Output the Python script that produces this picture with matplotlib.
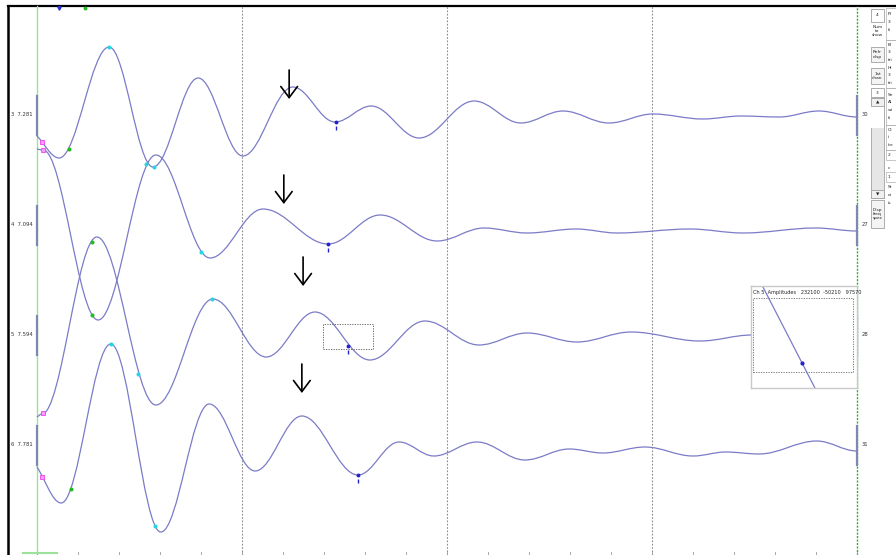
import matplotlib
matplotlib.use('Agg')
import matplotlib.pyplot as plt
from matplotlib.path import Path
from matplotlib.patches import PathPatch, Rectangle

# channel labels / offsets
chan_left = ['3  7.281', '4  7.094', '5  7.594', '6  7.781']
chan_right = ['30', '27', '28', '31']
offsets = [44.0, 33.0, 22.0, 11.0]

# extrema of each trace (time, amplitude)
t1 = [0, 0.54, 1.76, 2.83, 3.93, 5.02, 6.24, 7.27, 8.15, 9.32, 10.66, 11.80,
      12.83, 13.95, 15.02, 16.24, 17.17, 18.10, 19.07, 20.0]
a1 = [-2.1, -4.3, 6.8, -5.2, 3.7, -4.1, 2.8, -0.7, 0.9, -2.3, 1.4, -0.8,
      0.4, -0.8, 0.1, -0.4, -0.1, -0.2, 0.4, -0.2]
t2 = [0, 0.15, 1.49, 2.90, 4.22, 5.51, 7.10, 8.37, 9.76, 10.90, 11.95, 13.15,
      14.15, 15.93, 17.22, 19.0, 20.0]
a2 = [7.6, 7.5, -9.5, 7.0, -3.3, 1.6, -1.9, 1.0, -1.6, -0.3, -0.8, -0.4,
      -0.8, -0.4, -0.8, -0.3, -0.6]
t3 = [0, 0.12, 1.46, 2.90, 4.29, 5.59, 6.78, 8.12, 9.46, 10.78, 11.95, 13.17,
      14.49, 16.17, 17.44, 20.0]
a3 = [-8.2, -7.9, 9.8, -7.0, 3.6, -2.2, 2.3, -2.5, 1.4, -1.0, 0.2, -0.7,
      0.3, -0.6, 0.0, -0.1]
t4 = [0, 0.59, 1.80, 3.02, 4.20, 5.32, 6.46, 7.83, 8.83, 9.68, 10.73, 11.90,
      12.98, 13.80, 14.83, 16.0, 16.80, 17.61, 19.02, 20.0]
a4 = [-2.2, -5.8, 10.1, -8.7, 4.1, -2.6, 2.9, -3.0, 0.3, -1.1, 0.3, -1.5,
      -0.4, -0.8, -0.2, -1.1, -0.7, -0.9, 0.4, -0.6]
traces = [(t1, a1), (t2, a2), (t3, a3), (t4, a4)]

# picks (black arrows): time and amplitude of arrow tip
arrow_t = [6.15, 6.02, 6.49, 6.46]
arrow_tip = [1.6, 2.1, 4.9, 5.2]

# markers: (channel, time, amplitude)
magenta_pts = [(0, 0.12, -2.7), (1, 0.15, 7.5), (2, 0.15, -7.8), (3, 0.12, -3.2)]
green_pts = [(0, 0.78, -3.4), (1, 1.34, -9.0), (2, 1.34, 9.3), (3, 0.83, -4.4)]
cyan_pts = [(0, 1.76, 6.8), (0, 2.85, -5.2), (1, 2.66, 6.1), (1, 4.0, -2.7),
            (2, 4.27, 3.6), (2, 2.46, -3.9), (3, 1.8, 10.1), (3, 2.88, -8.1)]
blue_pts = [(0, 7.29, -0.7), (1, 7.1, -1.9), (2, 7.59, -1.1), (3, 7.83, -3.0)]

inset_title = 'Ch 5  Amplitudes   232100  -50210   97570'

wave_col = '#7b7bc8'


def wave_path(t, a, off, k=0.364):
    verts = [(t[0], off + a[0])]
    codes = [Path.MOVETO]
    for i in range(1, len(t)):
        x0, y0 = t[i - 1], off + a[i - 1]
        x1, y1 = t[i], off + a[i]
        dx = x1 - x0
        if i == 1:
            c1 = (x0 + dx / 3, y0 + (y1 - y0) / 3)
        else:
            c1 = (x0 + k * dx, y0)
        c2 = (x1 - k * dx, y1)
        verts += [c1, c2, (x1, y1)]
        codes += [Path.CURVE4] * 3
    return Path(verts, codes)


fig = plt.figure(figsize=(8.96, 5.55), dpi=100)
fig.patch.set_facecolor('white')

# overlay in pixel coordinates for screen chrome
ui = fig.add_axes([0, 0, 1, 1])
ui.set_xlim(0, 896)
ui.set_ylim(555, 0)
ui.axis('off')

ax = fig.add_axes([0, 0, 1, 1])
ax.set_xlim(-37 / 41, 859 / 41)
ax.set_ylim(0, 55.5)
ax.axis('off')
ax.patch.set_alpha(0)

# grid lines
for g in [5, 10, 15]:
    ax.axvline(g, ymin=0, ymax=549 / 555, color='#8a8a8a', lw=0.8, ls=(0, (1.5, 1.5)))
ax.axvline(0, ymin=0, ymax=549 / 555, color='#9be39b', lw=1.0)
ax.axvline(20, ymin=0, ymax=549 / 555, color='#33aa33', lw=1.0, ls=(0, (1.5, 1.0)))

# bottom ticks
for i in range(21):
    ax.plot([i, i], [0.05, 0.3], color='#999999', lw=0.6)
ax.plot([-0.34, 0.49], [0.2, 0.2], color='#9be39b', lw=1.5)

# traces
for (t, a), off in zip(traces, offsets):
    ax.add_patch(PathPatch(wave_path(t, a, off), fill=False, ec=wave_col, lw=0.9, zorder=3))

# scale bars and labels
for i, off in enumerate(offsets):
    ax.plot([0, 0], [off - 1.95, off + 1.9], color='#8585b5', lw=1.6, zorder=4)
    ax.plot([20, 20], [off - 1.95, off + 1.9], color='#8585b5', lw=1.6, zorder=4)
    ax.text(-0.63, off, chan_left[i], fontsize=3.8, color='#333333', va='center', ha='left')
    ax.text(20.12, off, chan_right[i], fontsize=3.8, color='#333333', va='center', ha='left')

# markers
for ch, t, a in magenta_pts:
    ax.plot(t, offsets[ch] + a, marker='s', ms=3.0, mfc='#ff99ff', mec='#ee44ee', mew=0.6, zorder=5)
for ch, t, a in green_pts:
    ax.plot(t, offsets[ch] + a, marker='o', ms=1.9, color='#22bb22', zorder=5)
for ch, t, a in cyan_pts:
    ax.plot(t, offsets[ch] + a, marker='o', ms=1.9, color='#22d8e0', zorder=5)
for ch, t, a in blue_pts:
    ax.plot(t, offsets[ch] + a, marker='o', ms=1.8, color='#2222cc', zorder=5)
    ax.plot(t, offsets[ch] + a - 0.55, marker='|', ms=3.5, mew=1.0, color='#2222cc', zorder=5)

# pick arrows
for t, tip, off in zip(arrow_t, arrow_tip, offsets):
    ax.annotate('', xy=(t, off + tip), xytext=(t, off + tip + 2.9),
                arrowprops=dict(arrowstyle='->,head_length=0.8,head_width=0.6',
                                lw=1.2, color='black', shrinkA=0, shrinkB=0), zorder=6)

# selection box
ax.add_patch(Rectangle((6.98, 20.6), 1.22, 2.5, fill=False, ec='#555555', lw=0.6,
                       ls=(0, (1.5, 1.5)), zorder=4))

# top markers
ax.plot(0.54, 54.7, marker='v', ms=2.5, color='#2233cc', clip_on=False)
ax.plot(1.17, 54.7, marker='o', ms=1.8, color='#22bb22', clip_on=False)

# frame
ui.plot([8, 896], [6, 6], color='black', lw=1.6)
ui.plot([8, 8], [6, 555], color='black', lw=1.8)

# inset
ins = fig.add_axes([751 / 896, (555 - 388) / 555, 106 / 896, 102 / 555])
ins.set_xlim(0, 1)
ins.set_ylim(0, 1)
ins.set_xticks([])
ins.set_yticks([])
for s in ins.spines.values():
    s.set_color('#c8c8c8')
    s.set_linewidth(1.0)
ins.add_patch(Rectangle((0.02, 0.157), 0.94, 0.725, fill=False, ec='#666666', lw=0.6, ls=(0, (1.5, 1.5))))
ins.plot([0.113, 0.613], [0.99, -0.02], color=wave_col, lw=0.9)
ins.plot(0.48, 0.245, marker='o', ms=2.0, color='#2222cc')
ins.text(0.02, 0.94, inset_title, fontsize=3.6, color='#222222', va='center', ha='left')


# right control panel
def button(x0, y0, x1, y1, label, fc='#f4f4f4'):
    ui.add_patch(Rectangle((x0, y0), x1 - x0, y1 - y0, fc=fc, ec='#a0a0a0', lw=0.6))
    if label:
        ui.text((x0 + x1) / 2, (y0 + y1) / 2, label, fontsize=3.2, ha='center', va='center',
                color='#222222', linespacing=1.1)


button(871, 9, 884, 22, '4', fc='white')
ui.text(877.5, 31, 'Num\nto\nshow', fontsize=3.2, ha='center', va='center', color='#222222', linespacing=1.1)
button(871, 47, 884, 62, 'Refr\ndisp')
button(871, 68, 884, 84, '1st\nchan')
button(871, 88, 884, 97, '3', fc='white')
button(871, 98, 884, 198, '', fc='#e6e6e6')
ui.add_patch(Rectangle((871, 106), 13, 22, fc='white', ec='none'))
button(871, 98, 884, 106, '\u25b2', fc='#f0f0f0')
button(871, 190, 884, 198, '\u25bc', fc='#f0f0f0')
button(871, 200, 884, 228, 'Disp\nfreq\nspec')

col2 = [(14, 'Pl'), (22, '3'), (30, 'fi'), (45, 'Bi'), (52, '3'), (60, 'tri'),
        (68, 'Hi'), (75, '3'), (83, 'tri'), (95, 'Se'), (102, 'Al'), (110, 'wi'),
        (118, 'fi'), (130, 'Oi'), (137, 'i'), (145, 'ite'), (155, '2'),
        (168, 'c'), (177, '1'), (187, 'St'), (195, 'oi'), (203, 'is')]
for y, s in col2:
    ui.text(888, y, s, fontsize=3.2, ha='left', va='center', color='#222222', clip_on=True)
for y0, y1 in [(8, 40), (40, 88), (88, 125), (125, 150), (150, 160), (172, 182)]:
    ui.add_patch(Rectangle((886, y0), 12, y1 - y0, fill=False, ec='#b0b0b0', lw=0.5))

fig.savefig('out.png', dpi=100, facecolor='white')
